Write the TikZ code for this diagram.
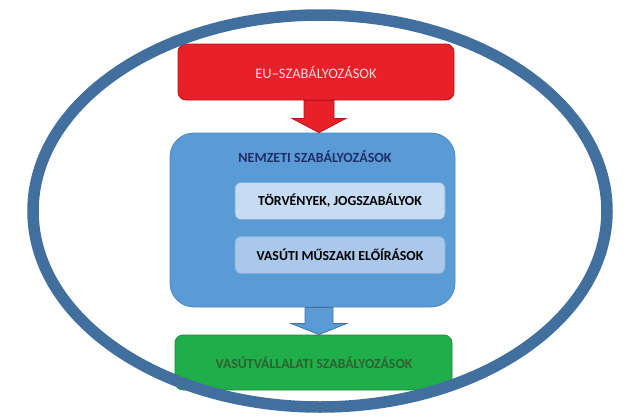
\documentclass[tikz,border=0pt]{standalone}
\usepackage{fontspec}
\setmainfont{Carlito}
\usetikzlibrary{positioning, calc}
\definecolor{EUred}{HTML}{E8202A}
\definecolor{EUdark}{HTML}{B8141C}
\definecolor{EUtext}{HTML}{F8DADA}
\definecolor{NatBlue}{HTML}{5B9BD5}
\definecolor{NatDark}{HTML}{4B88C2}
\definecolor{Navy}{HTML}{1F2E6B}
\definecolor{LawBlue}{HTML}{C6DCF2}
\definecolor{TechBlue}{HTML}{A9C8EA}
\definecolor{RailGreen}{HTML}{1FAE4A}
\definecolor{GreenDark}{HTML}{2E6330}
\definecolor{Ring}{HTML}{41709F}

\tikzset{
  box/.style={rectangle, rounded corners=8pt, draw, line width=0.8pt, inner sep=0pt},
  inbox/.style={box, rounded corners=6pt, draw=NatBlue!80!white, minimum width=210pt, minimum height=37pt, font=\fontsize{13.8}{16}\selectfont\bfseries},
  fatarrow/.style={line width=0.8pt, line join=miter}
}

\begin{document}
\begin{tikzpicture}[x=1pt, y=-1pt, every node/.style={font=\fontsize{14.5}{17}\selectfont}]
\useasboundingbox (0,0) rectangle (638,418);

% === EU ===
\node[box, fill=EUred, draw=EUdark, minimum width=276pt, minimum height=56pt, text=EUtext] (eu) at (316,72) {EU--SZABÁLYOZÁSOK};

% === NEMZETI ===
\node[box, rounded corners=24pt, fill=NatBlue, draw=NatDark, minimum width=285pt, minimum height=174pt] (nemz) at (312.5,220) {};
\node[font=\fontsize{14}{17}\selectfont\bfseries, text=Navy] (nemztitle) at (315,157) {NEMZETI SZABÁLYOZÁSOK};
\node[inbox, fill=LawBlue] (law) at (340,201) {TÖRVÉNYEK, JOGSZABÁLYOK};
\node[inbox, fill=TechBlue] (tech) at (340,255) {VASÚTI MŰSZAKI ELŐÍRÁSOK};

% === VASUTVALLALATI ===
\node[box, fill=RailGreen, draw=RailGreen!80!black, minimum width=277pt, minimum height=55pt] (rail) at (313.5,362.5) {};
\node[font=\fontsize{13.8}{16}\selectfont\bfseries, text=GreenDark] (railtext) at (314,363) {VASÚTVÁLLALATI SZABÁLYOZÁSOK};

% arrows
\coordinate (ra) at ($(eu.south)+(3,0)$);
\filldraw[fatarrow, fill=EUred, draw=EUdark]
  ($(ra)+(-15,0)$) -- ($(ra)+(-15,18)$) -- ($(ra)+(-27,18)$) --
  (ra |- nemz.north) --
  ($(ra)+(27,18)$) -- ($(ra)+(15,18)$) -- ($(ra)+(15,0)$) -- cycle;

\coordinate (ba) at (ra |- nemz.south);
\filldraw[fatarrow, fill=NatBlue, draw=Ring]
  ($(ba)+(-14,0)$) -- ($(ba)+(-14,16)$) -- ($(ba)+(-28,16)$) --
  (ba |- rail.north) --
  ($(ba)+(28,16)$) -- ($(ba)+(14,16)$) -- ($(ba)+(14,0)$) -- cycle;

% === RING ===
\draw[Ring, line width=11.5pt] (320,211) ellipse [x radius=287, y radius=196];

\end{tikzpicture}
\end{document}
